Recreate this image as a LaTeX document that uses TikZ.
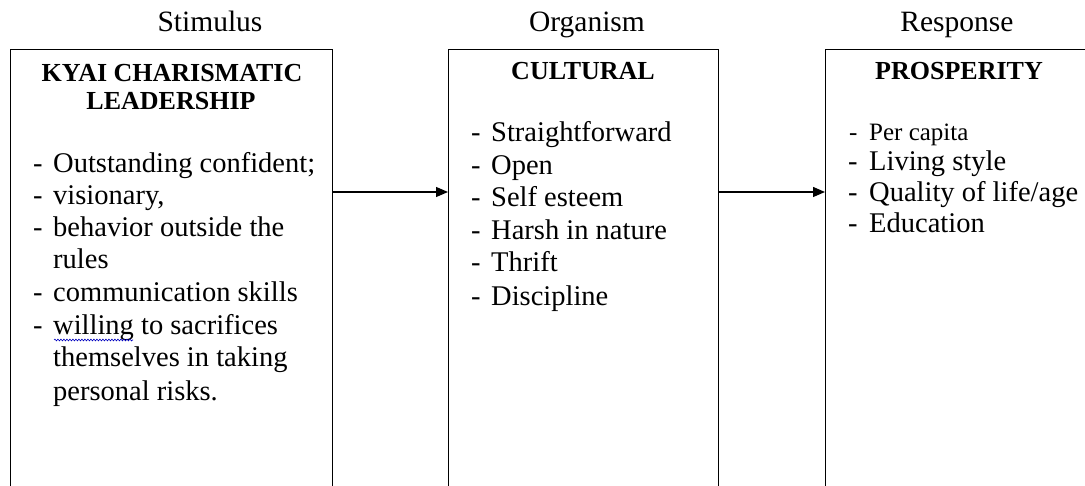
\documentclass[tikz,border=0pt]{standalone}
\usepackage{fontspec}
\setmainfont{Liberation Serif}
\usetikzlibrary{arrows.meta,decorations.pathmorphing}
\begin{document}
\begin{tikzpicture}[x=1pt,y=-1pt,
  box/.style={draw,line width=1.3pt,anchor=north west,inner sep=0,minimum height=480pt},
  head/.style={anchor=base,inner sep=0,font=\fontsize{29.5}{32}\selectfont},
  bhead/.style={anchor=base,inner sep=0,font=\fontsize{26}{28}\selectfont\bfseries},
  txt/.style={anchor=base west,inner sep=0,font=\fontsize{28.5}{32}\selectfont},
  stxt/.style={anchor=base west,inner sep=0,font=\fontsize{25}{28}\selectfont},
  arr/.style={line width=1.3pt,-{Triangle[length=12pt,width=10pt]}},
  wavy/.style={draw=blue!75!black,line width=0.6pt,decorate,decoration={snake,amplitude=0.9pt,segment length=3pt}}]
\clip (0,0) rectangle (1085,486);
\fill[white] (0,0) rectangle (1085,486);
% boxes
\node[box,minimum width=322pt] (b1) at (10,49) {};
\node[box,minimum width=270pt] (b2) at (448,49) {};
\node[box,minimum width=300pt] (b3) at (825,49) {};
% column headers
\node[head] (h1) at (210,32) {Stimulus};
\node[head] (h2) at (587,32) {Organism};
\node[head] (h3) at (957,32) {Response};
% box titles
\node[bhead] (t1a) at (172,82) {KYAI CHARISMATIC};
\node[bhead] (t1b) at (171,110) {LEADERSHIP};
\node[bhead] (t2) at (583,80) {CULTURAL};
\node[bhead] (t3) at (959,80) {PROSPERITY};
% left list
\node[txt] (d11) at (33,173) {-};
\node[txt] (l11) at (53,173) {Outstanding confident;};
\node[txt] (d12) at (33,205) {-};
\node[txt] (l12) at (53,205) {visionary,};
\node[txt] (d13) at (33,237) {-};
\node[txt] (l13) at (53,237) {behavior outside the};
\node[txt] (l14) at (53,269) {rules};
\node[txt] (d15) at (33,302) {-};
\node[txt] (l15) at (53,302) {communication skills};
\node[txt] (d16) at (33,335) {-};
\node[txt] (l16) at (53,335) {willing to sacrifices};
\node[txt] (l17) at (53,367) {themselves in taking};
\node[txt] (l18) at (53,400) {personal risks.};
\coordinate (w1) at (54,340);
\coordinate (w2) at (133,340);
\draw[wavy] (w1) -- (w2);
% middle list
\node[txt] (d21) at (471,142) {-};
\node[txt] (l21) at (491,142) {Straightforward};
\node[txt] (d22) at (471,175) {-};
\node[txt] (l22) at (491,175) {Open};
\node[txt] (d23) at (471,207) {-};
\node[txt] (l23) at (491,207) {Self esteem};
\node[txt] (d24) at (471,240) {-};
\node[txt] (l24) at (491,240) {Harsh in nature};
\node[txt] (d25) at (471,272) {-};
\node[txt] (l25) at (491,272) {Thrift};
\node[txt] (d26) at (471,306) {-};
\node[txt] (l26) at (491,306) {Discipline};
% right list
\node[stxt] (d31) at (849,141) {-};
\node[stxt] (l31) at (869,141) {Per capita};
\node[txt] (d32) at (848,171) {-};
\node[txt] (l32) at (869,171) {Living style};
\node[txt] (d33) at (848,202) {-};
\node[txt] (l33) at (869,202) {Quality of life/age};
\node[txt] (d34) at (848,233) {-};
\node[txt] (l34) at (869,233) {Education};
% arrows
\coordinate (ay) at (0,192);
\draw[arr] (b1.east |- ay) -- (b2.west |- ay);
\draw[arr] (b2.east |- ay) -- (b3.west |- ay);
\end{tikzpicture}
\end{document}
